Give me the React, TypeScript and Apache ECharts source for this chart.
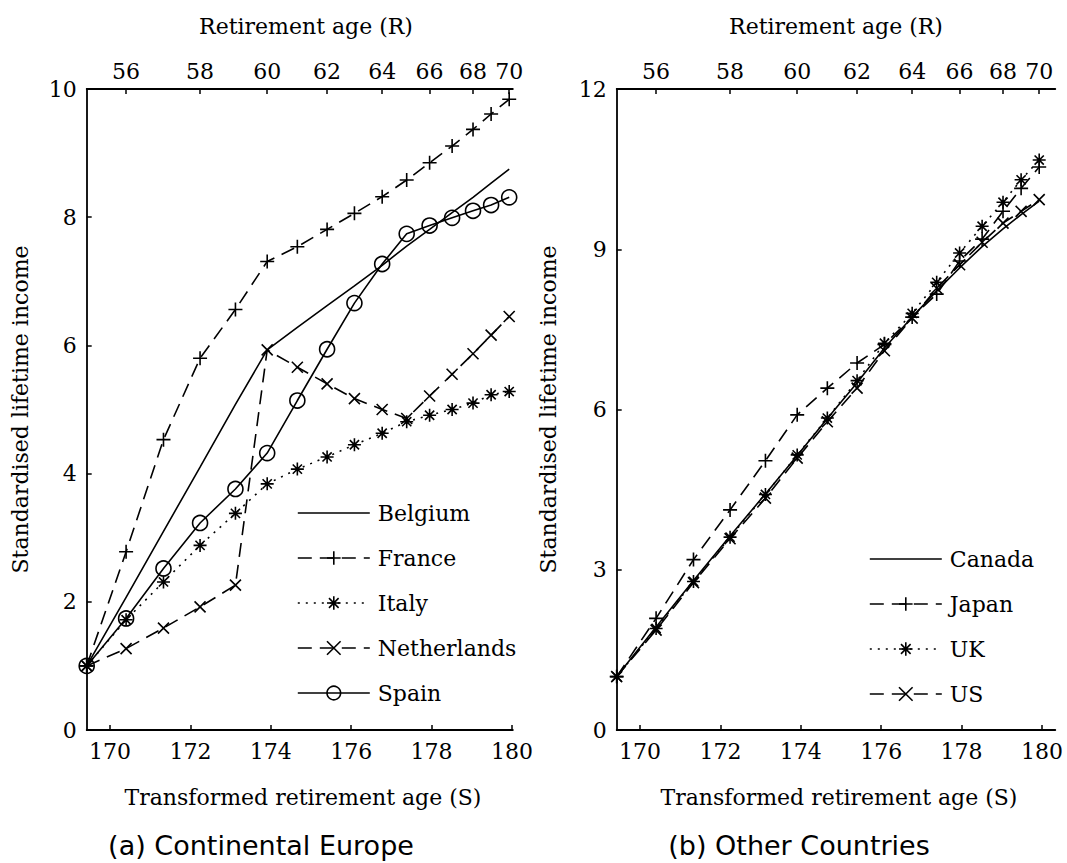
import React, { useEffect, useRef } from "react";
import * as echarts from "echarts";

// ---------- data ----------
const retirementAges = [55, 56, 57, 58, 59, 60, 61, 62, 63, 64, 65, 66, 67, 68, 69, 70];
const transformedAges = [169.42, 170.40, 171.33, 172.24, 173.12, 173.91, 174.66, 175.40, 176.08, 176.77, 177.38, 177.95, 178.51, 179.03, 179.48, 179.93];

const topTickAges = [56, 58, 60, 62, 64, 66, 68, 70];
const bottomTicks = [170, 172, 174, 176, 178, 180];

const belgium = [1.0, 2.07, 3.10, 4.10, 5.08, 5.93, 6.28, 6.62, 6.93, 7.25, 7.55, 7.81, 8.07, 8.31, 8.53, 8.75];
const france = [1.0, 2.78, 4.53, 5.80, 6.56, 7.31, 7.54, 7.81, 8.06, 8.32, 8.58, 8.85, 9.11, 9.37, 9.61, 9.84];
const italy = [1.0, 1.72, 2.31, 2.88, 3.38, 3.84, 4.07, 4.26, 4.45, 4.63, 4.81, 4.91, 5.00, 5.10, 5.23, 5.28];
const netherlands = [1.0, 1.27, 1.59, 1.92, 2.26, 5.93, 5.66, 5.40, 5.17, 5.00, 4.86, 5.21, 5.55, 5.87, 6.16, 6.45];
const spain = [1.0, 1.74, 2.52, 3.23, 3.76, 4.32, 5.14, 5.94, 6.66, 7.27, 7.74, 7.87, 7.99, 8.10, 8.19, 8.31];

const canada = [1.0, 1.93, 2.80, 3.63, 4.42, 5.14, 5.83, 6.50, 7.15, 7.73, 8.22, 8.65, 9.05, 9.38, 9.65, 9.90];
const japan = [1.0, 2.09, 3.19, 4.12, 5.04, 5.90, 6.40, 6.87, 7.22, 7.73, 8.16, 8.78, 9.19, 9.71, 10.14, 10.54];
const uk = [1.0, 1.90, 2.78, 3.61, 4.41, 5.15, 5.84, 6.54, 7.24, 7.80, 8.38, 8.93, 9.43, 9.88, 10.30, 10.67];
const us = [1.0, 1.87, 2.76, 3.58, 4.34, 5.09, 5.77, 6.40, 7.10, 7.71, 8.27, 8.71, 9.13, 9.49, 9.71, 9.93];

// ---------- styling ----------
const SERIF = "DejaVu Serif";
const PLUS = "path://M5 0L5 10M0 5L10 5";
const STAR = "path://M5 0L5 10M0 5L10 5M1.46 1.46L8.54 8.54M1.46 8.54L8.54 1.46";
const CROSS = "path://M0 0L10 10M0 10L10 0";
const DASH = [14, 8];
const DOT = [2, 6];

const S_MIN = 169.42;
const LEFT_MAX = 180.02;
const RIGHT_MAX = 180.33;
const PX_PER_S = 40.2;

const topTickS = topTickAges.map((r) => transformedAges[retirementAges.indexOf(r)]);

const pairs = (vals: number[]) => transformedAges.map((s, i) => [s, vals[i]]);

function makeSeries(name: string, vals: number[], xi: number, yi: number, symbol: string, size: number, dash: any) {
  const hasSymbol = symbol !== "none";
  return {
    name,
    type: "line",
    xAxisIndex: xi,
    yAxisIndex: yi,
    data: pairs(vals),
    symbol,
    symbolSize: size,
    showSymbol: hasSymbol,
    clip: false,
    silent: true,
    lineStyle: { color: "#000", width: 1.6, type: dash },
    itemStyle: {
      color: "transparent",
      borderColor: hasSymbol ? "#000" : "transparent",
      borderWidth: hasSymbol ? 1.6 : 0,
    },
    emphasis: { disabled: true },
  };
}

const tickLabel = { fontFamily: SERIF, fontSize: 22, color: "#000" };
const axisLine = { show: true, onZero: false, lineStyle: { color: "#000", width: 1.8 } };

function bottomAxis(grid: number, max: number) {
  return {
    gridIndex: grid,
    type: "value",
    position: "bottom",
    min: S_MIN,
    max,
    axisLine,
    axisTick: { show: true, inside: true, length: 5, customValues: bottomTicks, lineStyle: { color: "#000", width: 1.5 } },
    axisLabel: { ...tickLabel, margin: 10, customValues: bottomTicks, formatter: (v: number) => String(Math.round(v)) },
    splitLine: { show: false },
  };
}

function topAxis(grid: number, max: number) {
  return {
    gridIndex: grid,
    type: "value",
    position: "top",
    min: S_MIN,
    max,
    axisLine,
    axisTick: { show: true, inside: true, length: 5, customValues: topTickS, lineStyle: { color: "#000", width: 1.5 } },
    axisLabel: {
      ...tickLabel,
      margin: 7,
      customValues: topTickS,
      formatter: (v: number) => {
        const i = topTickS.findIndex((s) => Math.abs(s - v) < 1e-6);
        return i >= 0 ? String(topTickAges[i]) : "";
      },
    },
    splitLine: { show: false },
  };
}

function yAxis(grid: number, max: number, interval: number) {
  return {
    gridIndex: grid,
    type: "value",
    min: 0,
    max,
    interval,
    axisLine,
    axisTick: { show: true, inside: true, length: 5, lineStyle: { color: "#000", width: 1.5 } },
    axisLabel: { ...tickLabel, margin: 10 },
    splitLine: { show: false },
  };
}

function legend(names: string[], left: number, top: number) {
  return {
    data: names,
    orient: "vertical",
    left,
    top,
    itemWidth: 72,
    itemHeight: 17,
    itemGap: 23,
    selectedMode: false,
    itemStyle: { borderWidth: 1.6 },
    lineStyle: { width: 1.6 },
    textStyle: { fontFamily: SERIF, fontSize: 22, color: "#000", lineHeight: 22, padding: [0, 0, 0, 3] },
  };
}

function txt(text: string, x: number, y: number, size: number, family: string, rotation = 0) {
  return {
    type: "text",
    x,
    y,
    rotation,
    silent: true,
    style: {
      text,
      fontSize: size,
      fontFamily: family,
      fill: "#000",
      align: "center",
      verticalAlign: "middle",
      textAlign: "center",
      textVerticalAlign: "middle",
    },
  };
}

const GRID_TOP = 89;
const GRID_H = 641;
const L_LEFT = 86.7;
const L_W = (LEFT_MAX - S_MIN) * PX_PER_S;
const R_LEFT = 616.7;
const R_W = (RIGHT_MAX - S_MIN) * PX_PER_S;

export default function App() {
  const ref = useRef<HTMLDivElement>(null);

  useEffect(() => {
    if (!ref.current) return;
    const chart = echarts.init(ref.current, undefined, { renderer: "svg" });
    const option: any = {
      animation: false,
      backgroundColor: "#fff",
      grid: [
        { left: L_LEFT, top: GRID_TOP, width: L_W, height: GRID_H, outerBoundsMode: "none" },
        { left: R_LEFT, top: GRID_TOP, width: R_W, height: GRID_H, outerBoundsMode: "none" },
      ],
      xAxis: [bottomAxis(0, LEFT_MAX), topAxis(0, LEFT_MAX), bottomAxis(1, RIGHT_MAX), topAxis(1, RIGHT_MAX)],
      yAxis: [yAxis(0, 10, 2), yAxis(1, 12, 3)],
      legend: [
        legend(["Belgium", "France", "Italy", "Netherlands", "Spain"], 292, 497),
        legend(["Canada", "Japan", "UK", "US"], 864, 543),
      ],
      series: [
        makeSeries("Belgium", belgium, 0, 0, "none", 0, "solid"),
        makeSeries("France", france, 0, 0, PLUS, 14, DASH),
        makeSeries("Italy", italy, 0, 0, STAR, 13, DOT),
        makeSeries("Netherlands", netherlands, 0, 0, CROSS, 11, DASH),
        makeSeries("Spain", spain, 0, 0, "circle", 15, "solid"),
        makeSeries("Canada", canada, 2, 1, "none", 0, "solid"),
        makeSeries("Japan", japan, 2, 1, PLUS, 14, DASH),
        makeSeries("UK", uk, 2, 1, STAR, 13, DOT),
        makeSeries("US", us, 2, 1, CROSS, 11, DASH),
      ],
      graphic: [
        txt("Retirement age (R)", 306, 26, 22, SERIF),
        txt("Retirement age (R)", 836, 26, 22, SERIF),
        txt("Transformed retirement age (S)", 303, 797, 22, SERIF),
        txt("Transformed retirement age (S)", 839, 797, 22, SERIF),
        txt("Standardised lifetime income", 20, 409.5, 22, SERIF, Math.PI / 2),
        txt("Standardised lifetime income", 548, 409.5, 22, SERIF, Math.PI / 2),
        txt("(a) Continental Europe", 261, 845, 27, "DejaVu Sans"),
        txt("(b) Other Countries", 799, 845, 27, "DejaVu Sans"),
      ],
    };
    chart.setOption(option);
    return () => chart.dispose();
  }, []);

  return (
    <div
      ref={ref}
      style={{ position: "absolute", left: 0, top: 0, width: 1067, height: 863, background: "#fff" }}
    />
  );
}
